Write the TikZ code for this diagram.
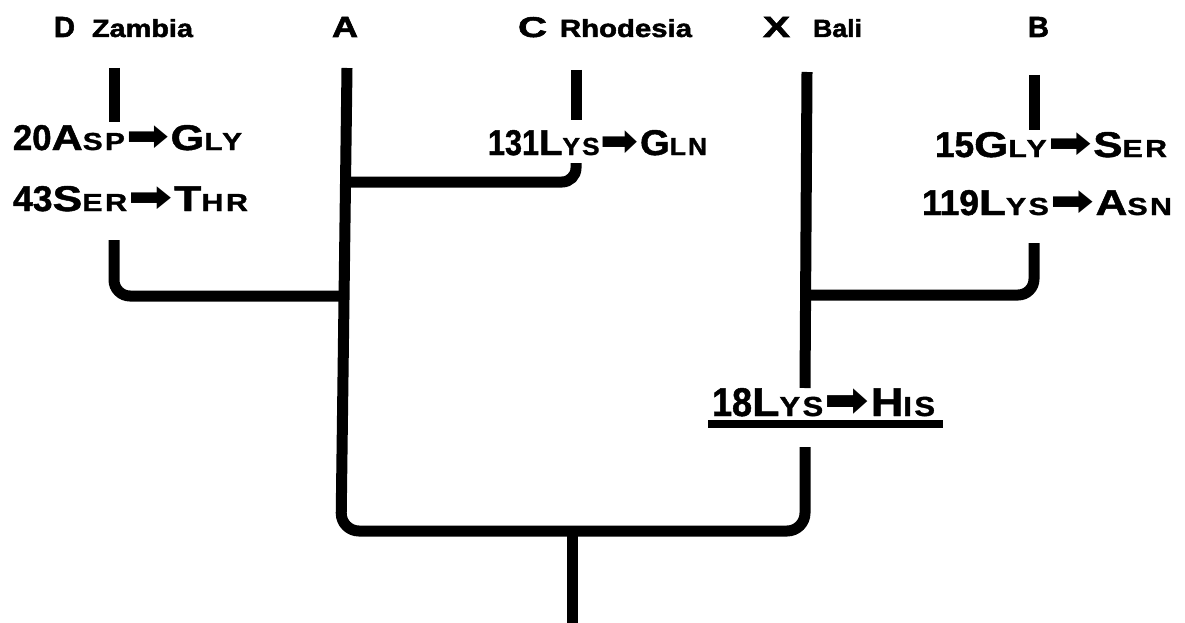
\documentclass[tikz,border=0pt]{standalone}
\usepackage{fontspec}
\setmainfont{Liberation Sans}
\newfontfamily\arwfont{DejaVu Sans}
\usepackage{graphicx}
\newcommand\smc[1]{{\fontsize{22}{22}\selectfont\addfontfeature{LetterSpace=8}#1}}
\newcommand\dg[1]{\scalebox{0.8}[1]{#1}}
\newcommand\arw{\kern1pt{\arwfont\fontsize{38}{38}\selectfont ➡}\kern1pt}
\newcommand\mut[3]{\resizebox{#1pt}{#2pt}{\bfseries\fontsize{32}{32}\selectfont\addfontfeature{FakeBold=1.2}#3}}
\newcommand\ttl[3]{\resizebox{#1pt}{#2pt}{\bfseries\fontsize{26}{26}\selectfont\addfontfeature{FakeBold=1.8}#3}}
\tikzset{
  branch/.style={line width=11pt, line cap=butt, draw=black},
  lbl/.style={inner sep=0pt, outer sep=0pt, anchor=base west},
}
\begin{document}
\begin{tikzpicture}[x=1pt, y=-1pt]
\useasboundingbox[fill=white] (0,0) rectangle (1185,623);
% titles
\node[lbl] (D) at (54,37) {\ttl{21}{20}{D}};
\node[lbl] (Dn) at (92,37) {\ttl{101}{18}{Zambia}};
\node[lbl] (A) at (332,37) {\ttl{26}{20}{A}};
\node[lbl] (C) at (518,37) {\ttl{29}{20}{C}};
\node[lbl] (Cn) at (560,37) {\ttl{132}{18}{Rhodesia}};
\node[lbl] (X) at (763,37) {\ttl{27}{20}{X}};
\node[lbl] (Xn) at (813,37) {\ttl{49}{18}{Bali}};
\node[lbl] (B) at (1028,37) {\ttl{21}{20}{B}};
% mutations
\node[lbl] (m20) at (13,150) {\mut{229}{25}{\dg{20}A\smc{SP}\arw G\smc{LY}}};
\node[lbl] (m43) at (13,211) {\mut{235}{25}{\dg{43}S\smc{ER}\arw T\smc{HR}}};
\node[lbl] (m131) at (488,155) {\mut{219}{25}{\dg{131}L\smc{YS}\arw G\smc{LN}}};
\node[lbl] (m15) at (935,157) {\mut{232}{25}{\dg{15}G\smc{LY}\arw S\smc{ER}}};
\node[lbl] (m119) at (922,215) {\mut{250}{25}{\dg{119}L\smc{YS}\arw A\smc{SN}}};
\node[lbl] (m18) at (712,416) {\mut{223}{28}{\dg{18}L\smc{YS}\arw H\smc{IS}}};
% coordinates
\coordinate (Dt) at (114,68);  \coordinate (Db) at (114,122);
\coordinate (Dl) at (114,240); \coordinate (jD) at (346,296);
\coordinate (At) at (347,68);  \coordinate (Abot) at (341,531);
\coordinate (Ct) at (576,70);  \coordinate (Cb) at (576,120);
\coordinate (Cl) at (576,163); \coordinate (jC) at (347,182);
\coordinate (Xt) at (807,72);  \coordinate (Xm) at (805,388);
\coordinate (Xl) at (805,447); \coordinate (Xbot) at (805,531);
\coordinate (Bt) at (1034,75); \coordinate (Bb) at (1034,130);
\coordinate (Bl) at (1034,243); \coordinate (jB) at (806,295);
\coordinate (R) at (572,531);  \coordinate (Rend) at (572,623);
\coordinate (u1) at (708,424); \coordinate (u2) at (943,424);
% branches
\draw[branch] (Dt) -- (Db);
\draw[branch, rounded corners=16pt] (Dl) |- (jD);
\draw[branch] (Ct) -- (Cb);
\draw[branch, rounded corners=14pt] (Cl) |- (jC);
\draw[branch, rounded corners=18pt] (At) -- (Abot) -- (Xbot) -- (Xl);
\draw[branch] (Xt) -- (Xm);
\draw[branch] (Bt) -- (Bb);
\draw[branch, rounded corners=16pt] (Bl) |- (jB);
\draw[branch] (R) -- (Rend);
\draw[line width=8pt] (u1) -- (u2);
\end{tikzpicture}
\end{document}
